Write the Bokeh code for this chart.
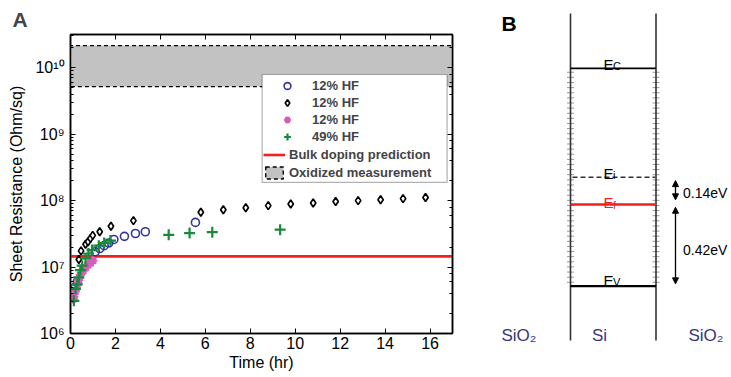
import numpy as np
from bokeh.plotting import figure
from bokeh.layouts import row
from bokeh.models import (Range1d, LogAxis, LinearAxis, Legend, LegendItem, BoxAnnotation,
                          Arrow, NormalHead, FixedTicker, CustomJSTickFormatter)
from bokeh.core.properties import value
from bokeh.embed import file_html
from bokeh.resources import INLINE

FONT = "Liberation Sans"

# ---------------- data (panel A) ----------------
circ_t = [0.22, 0.3, 1.1, 1.3, 1.5, 1.7, 1.93, 2.4, 2.89, 3.33, 5.56]
circ_R = [5.0e6, 6.0e6, 1.7e7, 1.9e7, 2.1e7, 2.3e7, 2.6e7, 2.9e7, 3.2e7, 3.4e7, 4.7e7]

diam_t = [0.37, 0.47, 0.67, 0.78, 0.89, 0.99, 1.3, 1.8, 2.8, 5.8, 6.8, 7.8, 8.8, 9.8,
          10.8, 11.8, 12.8, 13.8, 14.8, 15.8]
diam_R = [1.3e7, 1.75e7, 2.2e7, 2.4e7, 2.7e7, 3.0e7, 3.4e7, 4.1e7, 5.0e7, 6.7e7, 7.3e7,
          7.8e7, 8.4e7, 8.9e7, 9.2e7, 9.7e7, 1.0e8, 1.03e8, 1.07e8, 1.11e8]

star_t = [0.12, 0.15, 0.22, 0.3, 0.37, 0.44, 0.56, 0.67, 0.77, 0.89, 1.0]
star_R = [3.3e6, 3.6e6, 4.3e6, 5.4e6, 6.4e6, 7.6e6, 8.8e6, 9.8e6, 1.08e7, 1.15e7, 1.25e7]

plus_t = [0.15, 0.22, 0.3, 0.37, 0.44, 0.52, 0.67, 0.8, 0.96, 1.26, 1.5, 1.78,
          4.37, 5.3, 6.31, 9.33]
plus_R = [3.1e6, 4.7e6, 5.5e6, 7.0e6, 9.0e6, 1.05e7, 1.35e7, 1.6e7, 1.8e7, 2.1e7, 2.3e7,
          2.5e7, 3.05e7, 3.25e7, 3.35e7, 3.65e7]

bulk_R = 1.45e7
ox_low, ox_high = 5.2e9, 2.15e10
t_range = (0, 17)
R_range = (1e6, 3.16e10)
x_ticks = [0, 2, 4, 6, 8, 10, 12, 14, 16]
y_ticks = [1e6, 1e7, 1e8, 1e9, 1e10]
y_tick_labels = ["10\u2076", "10\u2077", "10\u2078", "10\u2079", "10\u00b9\u2070"]
legend_labels = ["12% HF", "12% HF", "12% HF", "49% HF", "Bulk doping prediction",
                 "Oxidized measurement"]

# ---------------- data (panel B) ----------------
E_v, E_f, E_i, E_c = 0.0, 0.42, 0.56, 1.12
gap_labels = ["0.14eV", "0.42eV"]
region_labels = ["SiO\u2082", "Si", "SiO\u2082"]

# ================= Panel A =================
pA = figure(width=458, height=376, x_range=Range1d(*t_range),
            y_range=Range1d(*R_range), y_axis_type="log", output_backend="svg",
            toolbar_location=None, min_border_left=70, min_border_right=6,
            min_border_top=34, min_border_bottom=43, background_fill_color="white",
            border_fill_color="white", frame_align=False)
pA.grid.visible = False
pA.outline_line_color = "black"
pA.outline_line_width = 1.5
pA.title.text = "A"
pA.title.text_font = FONT
pA.title.text_font_size = "21px"
pA.title.text_font_style = "bold"
pA.title.align = "left"
pA.title.offset = -58
pA.title.standoff = 0

band = pA.quad(left=[t_range[0] - 1], right=[t_range[1] + 1], bottom=[ox_low], top=[ox_high],
               fill_color="#c2c2c2", line_color="black", line_dash="4 3", line_width=1.4)
bulk = pA.line(x=list(t_range), y=[bulk_R, bulk_R], line_color="#ee2020", line_width=2.6)

r_circ = pA.scatter(circ_t, circ_R, marker="circle", size=8, fill_color=None,
                    line_color="#3434a0", line_width=1.6)
r_diam = pA.scatter(diam_t, diam_R, marker="diamond", size=8,
                    fill_color="white", line_color="black", line_width=1.7)
r_star = pA.scatter(star_t, star_R, marker="asterisk", size=9, line_color="#d85cb8",
                    line_width=2.2)
r_plus = pA.scatter(plus_t, plus_R, marker="cross", size=11, line_color="#178a3c",
                    line_width=2.2)

# axes styling
for ax in (pA.xaxis[0], pA.yaxis[0]):
    ax.axis_line_width = 1.5
    ax.major_tick_in = 5
    ax.major_tick_out = 0
    ax.minor_tick_in = 3
    ax.minor_tick_out = 0
    ax.major_label_text_font = FONT
    ax.major_label_text_font_size = "16px"
    ax.major_label_text_color = "black"
    ax.axis_label_text_font = FONT
    ax.axis_label_text_font_size = "16px"
    ax.axis_label_text_font_style = "normal"
    ax.axis_label_text_color = "black"

pA.xaxis[0].ticker = FixedTicker(ticks=x_ticks)
pA.xaxis[0].axis_label = "Time (hr)"
pA.xaxis[0].major_label_standoff = 3
pA.xaxis[0].axis_label_standoff = 2
pA.yaxis[0].axis_label = "Sheet Resistance (Ohm/sq)"
pA.yaxis[0].major_label_standoff = 6
pA.yaxis[0].axis_label_standoff = 7
pA.yaxis[0].formatter = CustomJSTickFormatter(
    args=dict(tvals=y_ticks, tlabels=y_tick_labels),
    code="""
    const e = Math.round(Math.log10(tick));
    for (let k = 0; k < tvals.length; k++) {
        if (Math.round(Math.log10(tvals[k])) == e) return tlabels[k];
    }
    return '';
    """)

blank = CustomJSTickFormatter(code="return ' ';")
top_ax = LinearAxis(ticker=FixedTicker(ticks=x_ticks), formatter=blank,
                    major_label_text_font_size="1px", major_label_standoff=0,
                    major_tick_in=5, major_tick_out=0, axis_line_width=1.5)
pA.add_layout(top_ax, "above")
right_ax = LogAxis(formatter=blank, major_label_text_font_size="1px",
                   major_label_standoff=0, major_tick_in=5, major_tick_out=0,
                   minor_tick_in=3, minor_tick_out=0, axis_line_width=1.5)
pA.add_layout(right_ax, "right")

# legend frame
box = BoxAnnotation(left=8.53, right=16.76, bottom=1.875e8, top=7.9e9,
                    fill_color="white", fill_alpha=1.0, line_color="black",
                    line_width=1.2)
pA.add_layout(box)

leg1 = Legend(items=[LegendItem(label=legend_labels[0], renderers=[r_circ]),
                     LegendItem(label=legend_labels[1], renderers=[r_diam]),
                     LegendItem(label=legend_labels[2], renderers=[r_star]),
                     LegendItem(label=legend_labels[3], renderers=[r_plus])],
              location=(207, 188), glyph_width=20, glyph_height=17, label_height=17,
              label_standoff=15, spacing=0, padding=0, margin=0,
              border_line_color=None, background_fill_alpha=0,
              label_text_font=FONT, label_text_font_size="13px",
              label_text_font_style="bold")
leg2 = Legend(items=[LegendItem(label=legend_labels[4], renderers=[bulk]),
                     LegendItem(label=legend_labels[5], renderers=[band])],
              location=(193, 152), glyph_width=22, glyph_height=15, label_height=17,
              label_standoff=4, spacing=1, padding=0, margin=0,
              border_line_color=None, background_fill_alpha=0,
              label_text_font=FONT, label_text_font_size="13px",
              label_text_font_style="bold")
pA.add_layout(leg1, "center")
pA.add_layout(leg2, "center")

# ================= Panel B =================
pB = figure(width=272, height=376, x_range=Range1d(458, 730),
            y_range=Range1d(-0.4643, 1.469), output_backend="svg",
            toolbar_location=None, min_border=0, x_axis_location=None,
            y_axis_location=None, outline_line_color=None, frame_align=False)
pB.grid.visible = False

xl, xr = 570, 655.5
y_low, y_high = -0.279, 1.402

# small state marks along the walls
marks_y = np.linspace(E_v + 0.02, E_c - 0.02, 42)
for xx in (xl, xr):
    pB.scatter([xx] * len(marks_y), marks_y, marker="dash", size=7,
               line_color="#9a9a9a", line_width=1)

pB.segment(x0=[xl, xr], y0=[y_low, y_low], x1=[xl, xr], y1=[y_high, y_high],
           line_color="#333333", line_width=1.6)
pB.segment(x0=[xl], y0=[E_c], x1=[xr], y1=[E_c], line_color="black", line_width=1.6)
pB.segment(x0=[xl], y0=[E_v], x1=[xr], y1=[E_v], line_color="black", line_width=2.2)
pB.segment(x0=[xl + 2], y0=[E_i], x1=[xr - 1], y1=[E_i], line_color="#333333",
           line_width=1.6, line_dash="5 3")
pB.segment(x0=[xl], y0=[E_f], x1=[xr], y1=[E_f], line_color="#ee2020", line_width=2.6)

level_vals = [E_c, E_i, E_f, E_v]
level_subs = ["C", "i", "f", "V"]
level_cols = ["black", "black", "#ee2020", "black"]
level_off = [-4, -4, -2, -6]
for lv, sub, col, off in zip(level_vals, level_subs, level_cols, level_off):
    pB.text(x=[603], y=[lv], text=["E"], y_offset=off, text_font=value(FONT),
            text_font_size="15px", text_color=col, text_baseline="alphabetic")
    pB.text(x=[612.5], y=[lv], text=[sub], y_offset=off + 2, text_font=value(FONT),
            text_font_size="11px", text_color=col, text_baseline="alphabetic")

xa = 675
pB.add_layout(Arrow(start=NormalHead(size=6, fill_color="black", line_color="black"),
                    end=NormalHead(size=6, fill_color="black", line_color="black"),
                    x_start=xa, y_start=E_i - 0.017, x_end=xa, y_end=E_f + 0.024,
                    line_width=1.3, line_color="black"))
pB.add_layout(Arrow(start=NormalHead(size=6, fill_color="black", line_color="black"),
                    end=NormalHead(size=6, fill_color="black", line_color="black"),
                    x_start=xa, y_start=E_f - 0.014, x_end=xa, y_end=E_v + 0.012,
                    line_width=1.3, line_color="black"))
pB.text(x=[682.5, 682.5], y=[(E_i + E_f) / 2, (E_f + E_v) / 2], text=gap_labels,
        y_offset=[2, 5], text_font=value(FONT), text_font_size="14px", text_color="black",
        text_baseline="middle")

pB.text(x=[501, 591.5, 688], y=[-0.254] * 3, text=region_labels, text_font=value(FONT),
        text_font_size="17px", text_color="#36367c", text_baseline="middle")
pB.text(x=[501], y=[1.35], text=["B"], text_font=value(FONT), text_font_size="21px",
        text_font_style="bold", text_color="black", text_baseline="middle")

layout = row(pA, pB)
open("out.html", "w").write(file_html(layout, INLINE))
